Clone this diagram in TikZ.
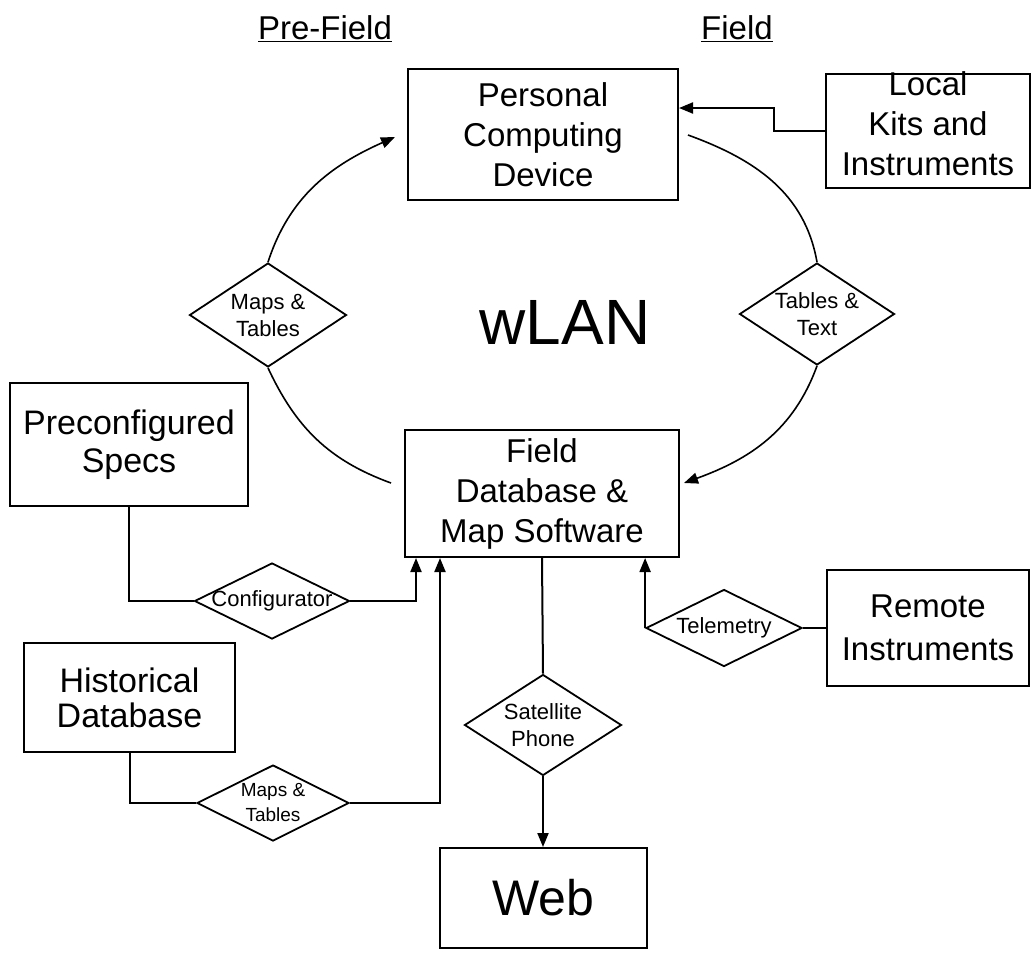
\documentclass[tikz,border=0pt]{standalone}
\usepackage{fontspec}
\setmainfont{Liberation Sans}
\usetikzlibrary{shapes.geometric,arrows.meta}
\begin{document}
\begin{tikzpicture}[x=1pt,y=1pt,
  box/.style={draw, line width=2pt, inner sep=0pt, align=center, font=\fontsize{33}{40}\selectfont},
  blab/.style={align=center, font=\fontsize{33}{40}\selectfont},
  dia/.style={draw, diamond, line width=1.8pt, inner sep=0pt},
  dlab/.style={align=center, font=\fontsize{22}{27}\selectfont},
  conn/.style={line width=2pt},
  curve/.style={line width=1.6pt},
  tip/.style={-{Triangle[length=14pt,width=11pt]}},
  head/.style={font=\fontsize{33}{40}\selectfont},
]
\useasboundingbox (0,0) rectangle (1031,-954);

% headings
\node[head] (prefield) at (325,-29) {\underline{Pre-Field}};
\node[head] (field) at (737,-29) {\underline{Field}};
\node[font=\fontsize{64}{70}\selectfont] (wlan) at (565,-322) {wLAN};

% boxes
\node[box, minimum width=270, minimum height=131] (pcd) at (543,-134.5) {Personal\\Computing\\Device};
\node[box, minimum width=204, minimum height=114, label={[blab, yshift=7pt]center:Local\\Kits and\\Instruments}] (local) at (928,-131) {};
\node[box, minimum width=274, minimum height=127] (fd) at (542,-493.5) {Field\\Database \&\\Map Software};
\node[box, minimum width=238, minimum height=123, font=\fontsize{34}{38}\selectfont] (pre) at (129,-444.5) {Preconfigured\\Specs};
\node[box, minimum width=211, minimum height=109, font=\fontsize{34}{35}\selectfont] (hist) at (129.5,-697.5) {Historical\\Database};
\node[box, minimum width=202, minimum height=116, font=\fontsize{33}{43}\selectfont] (remote) at (928,-628) {Remote\\Instruments};
\node[box, minimum width=207, minimum height=100, font=\fontsize{50}{60}\selectfont] (web) at (543,-898) {Web};

% diamonds
\node[dia, minimum width=157, minimum height=104, label={[dlab]center:Maps \&\\Tables}] (d1) at (268,-315) {};
\node[dia, minimum width=155, minimum height=102, label={[dlab]center:Tables \&\\Text}] (d2) at (817,-314) {};
\node[dia, minimum width=155, minimum height=76, label={[dlab]center:Configurator}] (d3) at (272,-601) {};
\node[dia, minimum width=152, minimum height=76, label={[dlab, font=\fontsize{19}{25}\selectfont]center:Maps \&\\Tables}] (d4) at (273,-803) {};
\node[dia, minimum width=157, minimum height=101, label={[dlab]center:Satellite\\Phone}] (d5) at (543,-725) {};
\node[dia, minimum width=156, minimum height=77, label={[dlab]center:Telemetry}] (d6) at (724,-628) {};

% wLAN loop
\draw[curve, tip] (d1.north) to[out=72,in=204] ([shift={(-12,-2.5)}]pcd.west);
\draw[curve] (d1.south) to[out=-65,in=160] ([shift={(-13,10.5)}]fd.west);
\draw[curve] ([shift={(9,-0.5)}]pcd.east) to[out=-20,in=100] (d2.north);
\draw[curve, tip] (d2.south) to[out=-110,in=20] ([shift={(4,10.5)}]fd.east);

% local kits
\draw[conn, tip] (local.west) -- ++(-51,0) |- ([yshift=26.5]pcd.east);

% preconfigured
\draw[conn] (pre.south) |- (d3.west);
\draw[conn, tip] (d3.east) -| ([xshift=-126]fd.south);

% historical
\draw[conn] (hist.south) |- (d4.west);
\draw[conn, tip] (d4.east) -| ([xshift=-102]fd.south);

% satellite
\draw[conn] (fd.south) -- (d5.north);
\draw[conn, tip] (d5.south) -- (web.north);

% telemetry
\draw[conn] (remote.west) -- (d6.east);
\draw[conn, tip] (d6.west) -- (d6.west |- fd.south);
\end{tikzpicture}
\end{document}
